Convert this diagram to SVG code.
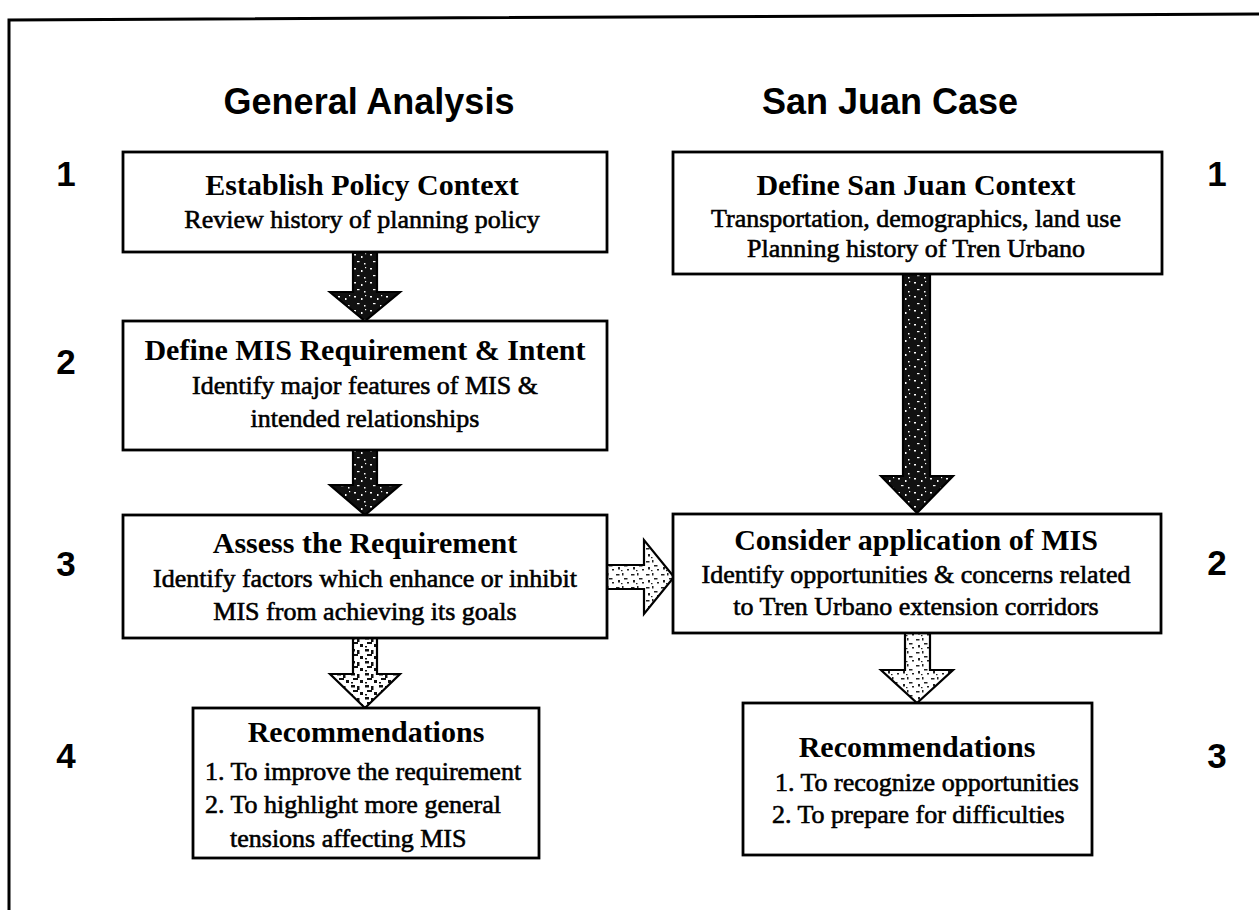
<svg xmlns="http://www.w3.org/2000/svg" width="1259" height="910" viewBox="0 0 1259 910">
  <defs>
    <!-- speckled fills for the block arrows -->
    <pattern id="speckDark" patternUnits="userSpaceOnUse" width="16" height="14">
      <rect width="16" height="14" fill="#111"/>
      <rect x="2" y="2" width="2" height="1.5" fill="#fff"/>
      <rect x="9" y="4" width="1.5" height="2" fill="#fff"/>
      <rect x="5" y="9" width="2.5" height="1.2" fill="#fff"/>
      <rect x="12" y="11" width="1.5" height="1.5" fill="#fff"/>
      <rect x="13" y="1" width="1.2" height="1.2" fill="#fff"/>
    </pattern>
    <pattern id="speckMid" patternUnits="userSpaceOnUse" width="14" height="12">
      <rect width="14" height="12" fill="#fff"/>
      <rect x="1" y="1" width="4" height="2.5" fill="#111"/>
      <rect x="7" y="2" width="2.5" height="4" fill="#111"/>
      <rect x="3" y="6" width="5" height="2" fill="#111"/>
      <rect x="10" y="8" width="3" height="3" fill="#111"/>
      <rect x="1" y="10" width="2" height="1.5" fill="#111"/>
    </pattern>
    <pattern id="speckLight" patternUnits="userSpaceOnUse" width="15" height="13">
      <rect width="15" height="13" fill="#fff"/>
      <rect x="1" y="2" width="3.5" height="1.5" fill="#222"/>
      <rect x="7" y="1" width="1.5" height="2.5" fill="#222"/>
      <rect x="9" y="6" width="3.5" height="1.5" fill="#222"/>
      <rect x="3" y="8" width="2" height="2.5" fill="#222"/>
      <rect x="12" y="10" width="2" height="1.5" fill="#222"/>
      <rect x="6" y="11" width="1.5" height="1.2" fill="#222"/>
    </pattern>
  </defs>
  <style>
    .box { fill: #fff; stroke: #000; stroke-width: 2.8; }
    .arrow { stroke: #000; stroke-width: 2.2; stroke-linejoin: miter; }
    .head { font-family: "Liberation Sans", Arial, sans-serif; font-weight: bold; font-size: 36px; fill: #000; text-anchor: middle; }
    .num { font-family: "Liberation Sans", Arial, sans-serif; font-weight: bold; font-size: 35px; fill: #000; text-anchor: middle; }
    .ttl { font-family: "Liberation Serif", "Times New Roman", serif; font-weight: bold; font-size: 30px; fill: #000; text-anchor: middle; }
    .txt { font-family: "Liberation Serif", "Times New Roman", serif; font-size: 26px; fill: #000; stroke: #000; stroke-width: 0.6; text-anchor: middle; }
    .lft { text-anchor: start; }
  </style>

  <rect width="1259" height="910" fill="#fff"/>

  <!-- outer frame (top and left edges only) -->
  <path d="M9,910 L9,20 L1259,14" fill="none" stroke="#000" stroke-width="3"/>

  <!-- column headings -->
  <g id="headings">
    <text class="head" x="369" y="114">General Analysis</text>
    <text class="head" x="890" y="114">San Juan Case</text>
  </g>

  <!-- step numbers -->
  <g id="step-numbers">
    <text class="num" x="66" y="186">1</text>
    <text class="num" x="66" y="374">2</text>
    <text class="num" x="66" y="576">3</text>
    <text class="num" x="66" y="768">4</text>
    <text class="num" x="1217" y="186">1</text>
    <text class="num" x="1217" y="575">2</text>
    <text class="num" x="1217" y="768">3</text>
  </g>

  <!-- connectors: block arrows -->
  <g id="connectors">
    <path class="arrow" fill="url(#speckDark)" d="M353,252 L377,252 L377,292 L400,292 L365,321 L330,292 L353,292 Z"/>
    <path class="arrow" fill="url(#speckDark)" d="M353,450 L377,450 L377,485 L400,485 L365,515 L330,485 L353,485 Z"/>
    <path class="arrow" fill="url(#speckMid)" d="M353,638 L377,638 L377,674 L400,674 L365,708 L330,674 L353,674 Z"/>
    <path class="arrow" fill="url(#speckLight)" d="M607,565 L644,565 L644,540 L674,577 L644,614 L644,589 L607,589 Z"/>
    <path class="arrow" fill="url(#speckDark)" d="M903,274 L930,274 L930,476 L953,476 L917,513 L881,476 L903,476 Z"/>
    <path class="arrow" fill="url(#speckLight)" d="M905,633 L930,633 L930,670 L953,670 L917,703 L881,670 L905,670 Z"/>
  </g>

  <!-- General Analysis column -->
  <g id="establish-policy-context">
    <rect class="box" x="123" y="152" width="484" height="100"/>
    <text class="ttl" x="362" y="195">Establish Policy Context</text>
    <text class="txt" x="362" y="228">Review history of planning policy</text>
  </g>
  <g id="define-mis-requirement">
    <rect class="box" x="123" y="321" width="484" height="129"/>
    <text class="ttl" x="365" y="360">Define MIS Requirement &amp; Intent</text>
    <text class="txt" x="365" y="394">Identify major features of MIS &amp;</text>
    <text class="txt" x="365" y="427">intended relationships</text>
  </g>
  <g id="assess-requirement">
    <rect class="box" x="123" y="515" width="484" height="123"/>
    <text class="ttl" x="365" y="553">Assess the Requirement</text>
    <text class="txt" x="365" y="587">Identify factors which enhance or inhibit</text>
    <text class="txt" x="365" y="620">MIS from achieving its goals</text>
  </g>
  <g id="recommendations-general">
    <rect class="box" x="193" y="708" width="346" height="150"/>
    <text class="ttl" x="366" y="742">Recommendations</text>
    <text class="txt lft" x="205" y="780">1. To improve the requirement</text>
    <text class="txt lft" x="205" y="813">2. To highlight more general</text>
    <text class="txt lft" x="230" y="847">tensions affecting MIS</text>
  </g>

  <!-- San Juan Case column -->
  <g id="define-san-juan-context">
    <rect class="box" x="673" y="152" width="489" height="122"/>
    <text class="ttl" x="916" y="195">Define San Juan Context</text>
    <text class="txt" x="916" y="227">Transportation, demographics, land use</text>
    <text class="txt" x="916" y="257">Planning history of Tren Urbano</text>
  </g>
  <g id="consider-application">
    <rect class="box" x="673" y="514" width="488" height="119"/>
    <text class="ttl" x="916" y="550">Consider application of MIS</text>
    <text class="txt" x="916" y="583">Identify opportunities &amp; concerns related</text>
    <text class="txt" x="916" y="615">to Tren Urbano extension corridors</text>
  </g>
  <g id="recommendations-san-juan">
    <rect class="box" x="743" y="703" width="349" height="152"/>
    <text class="ttl" x="917" y="757">Recommendations</text>
    <text class="txt lft" x="775" y="791">1. To recognize opportunities</text>
    <text class="txt lft" x="772" y="823">2. To prepare for difficulties</text>
  </g>
</svg>
